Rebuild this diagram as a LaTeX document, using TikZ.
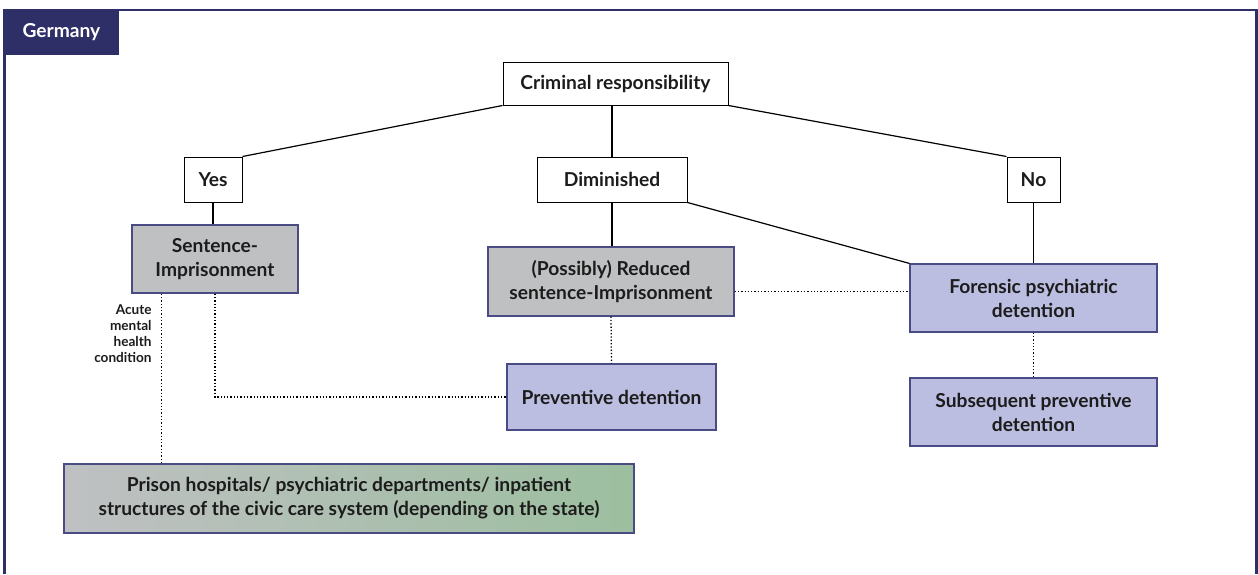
\documentclass[tikz,border=0pt]{standalone}
\usepackage{fontspec}
\setmainfont{Lato}
\definecolor{navy}{HTML}{2E2F66}
\definecolor{boxline}{HTML}{4A4A85}
\definecolor{greybox}{HTML}{BFC0C2}
\definecolor{lilac}{HTML}{BBBEE0}
\definecolor{sage}{HTML}{9CBF9F}
\definecolor{ink}{HTML}{1C1C1C}

\begin{document}
\begin{tikzpicture}[
    x=0.5pt, y=-0.5pt,
    font=\fontsize{9.6}{12}\selectfont\bfseries,
    text=ink,
    plain/.style={draw=black, fill=white, line width=0.5pt, align=center, inner sep=0pt},
    grey/.style={draw=boxline, fill=greybox, line width=0.6pt, align=center, inner sep=0pt},
    lilacbox/.style={draw=boxline, fill=lilac, line width=0.6pt, align=center, inner sep=0pt},
    link/.style={line width=0.6pt},
    dotline/.style={line width=0.65pt, dash pattern=on 0.65pt off 1pt}
]
\useasboundingbox (0,0) rectangle (1258,574);
% frame and tab
\draw[navy, line width=1.2pt] (4.5,574) -- (4.5,10) -- (1256.5,10) -- (1256.5,574);
\node[fill=navy, text=white, minimum width=58pt, minimum height=23pt, inner sep=0pt, anchor=north west] (tab) at (3,9) {Germany};

\node[plain, minimum width=112.5pt, minimum height=21.5pt] (crim) at (615.5,83.5) {Criminal responsibility};
\node[plain, minimum width=29pt, minimum height=22.5pt] (yes) at (213,179.5) {Yes};
\node[plain, minimum width=75pt, minimum height=22.5pt] (dim) at (612,179.5) {Diminished};
\node[plain, minimum width=26.5pt, minimum height=22.5pt] (no) at (1033.5,179.5) {No};
\node[grey, minimum width=83pt, minimum height=34pt] (sent) at (215,259) {Sentence-\\Imprisonment};
\node[grey, minimum width=123pt, minimum height=34.5pt] (red) at (611,281.5) {(Possibly) Reduced\\sentence-Imprisonment};
\node[lilacbox, minimum width=123.5pt, minimum height=34pt] (forensic) at (1033.5,298) {Forensic psychiatric\\detention};
\node[lilacbox, minimum width=104.5pt, minimum height=33pt] (prev) at (611.5,397) {Preventive detention};
\node[lilacbox, minimum width=123.5pt, minimum height=34pt] (subs) at (1033.5,412) {Subsequent preventive\\detention};
\node[draw=boxline, line width=0.6pt, left color=greybox, right color=sage, minimum width=285pt, minimum height=34.5pt, inner sep=0pt, align=center] (prison) at (349,498.5) {Prison hospitals/ psychiatric departments/ inpatient\\structures of the civic care system (depending on the state)};
\node[font=\fontsize{6.8}{8}\selectfont\bfseries, align=right, anchor=east, inner sep=0pt] (acute) at (152,334) {Acute\\mental\\health\\condition};

% solid links
\draw[link] (crim.south west) -- (yes.north east);
\draw[link] (dim.north) -- (dim.north |- crim.south);
\draw[link] (crim.south east) -- (no.north west);
\draw[link] (yes.south) -- (yes.south |- sent.north);
\draw[link] (dim.south) -- (dim.south |- red.north);
\draw[link] (dim.south east) -- (forensic.north west);
\draw[link] (no.south) -- (forensic.north);

% dotted links
\draw[dotline] ([xshift=15pt]sent.south west) -- ([xshift=15pt]sent.south west |- prison.north);
\draw[dotline] (sent.south) |- (prev.west);
\draw[dotline] (red.south) -- (prev.north);
\draw[dotline] ([yshift=-5pt]red.east) -- ([yshift=-5pt]red.east -| forensic.west);
\draw[dotline] (forensic.south) -- (subs.north);
\end{tikzpicture}
\end{document}
